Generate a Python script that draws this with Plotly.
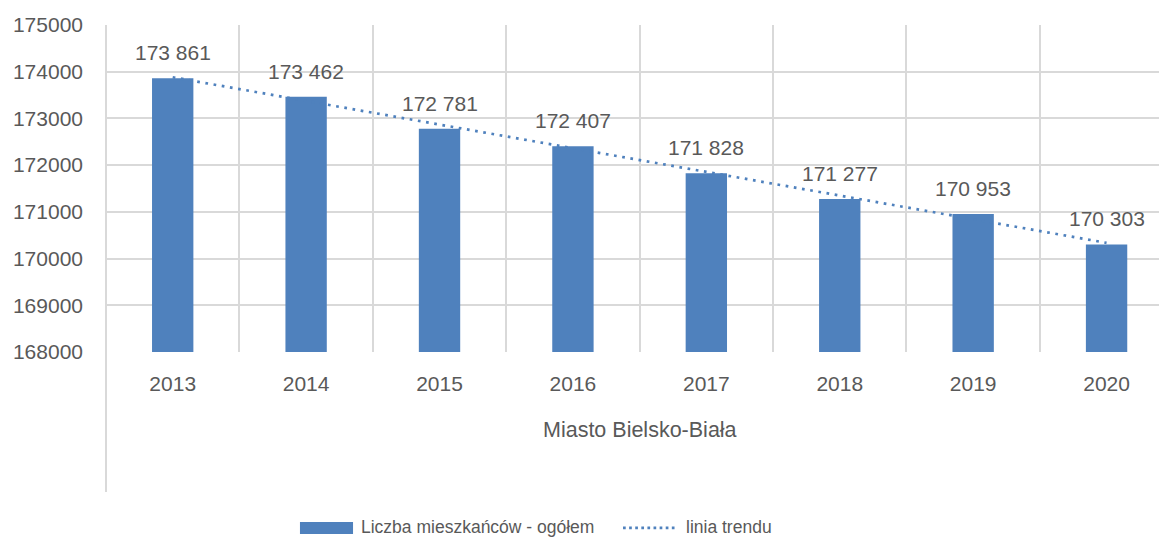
import numpy as np
import plotly.graph_objects as go

years = ["2013", "2014", "2015", "2016", "2017", "2018", "2019", "2020"]
population = [173861, 173462, 172781, 172407, 171828, 171277, 170953, 170303]
group_label = "Miasto Bielsko-Biała"
series_name = "Liczba mieszkańców - ogółem"
trend_name = "linia trendu"
y_ticks = [168000, 169000, 170000, 171000, 172000, 173000, 174000, 175000]

BAR = "#4F81BD"
GRID = "#D9D9D9"
TXT = "#595959"
FONT = "Liberation Sans"
FS = 21
LEG_FS = 17.5

x = np.arange(len(years))
slope, intercept = np.polyfit(x, population, 1)
trend = slope * x + intercept

fig = go.Figure()
fig.add_trace(go.Bar(x=x, y=population, width=0.31, marker=dict(color=BAR, line=dict(width=0)),
                     name=series_name, showlegend=False))
fig.add_trace(go.Scatter(x=x, y=trend, mode="lines", name=trend_name, showlegend=False,
                         line=dict(color=BAR, width=2.7, dash="2.7px,5.6px")))

for xi, v in zip(x, population):
    fig.add_annotation(x=xi, y=v, text=f"{v:,}".replace(",", " "), showarrow=False,
                       yanchor="bottom", yshift=12, font=dict(family=FONT, size=FS, color=TXT))

fig.add_annotation(x=(len(years) - 1) / 2, xref="x", y=-0.239, yref="paper", text=group_label,
                   showarrow=False, yanchor="middle", font=dict(family=FONT, size=21.5, color=TXT))

# left axis line extending through category area
fig.add_shape(type="line", xref="paper", yref="paper", x0=0, x1=0, y0=1, y1=-0.428,
              line=dict(color=GRID, width=2), layer="below")

# custom legend
fig.add_shape(type="rect", xref="paper", yref="paper", x0=0.1842, x1=0.2346, y0=-0.5566, y1=-0.5199,
              fillcolor=BAR, line=dict(width=0))
fig.add_annotation(x=0.2403, y=-0.535, xref="paper", yref="paper", text=series_name, showarrow=False,
                   xanchor="left", yanchor="middle", font=dict(family=FONT, size=LEG_FS, color=TXT))
fig.add_shape(type="line", xref="paper", yref="paper", x0=0.491, x1=0.5423, y0=-0.538, y1=-0.538,
              line=dict(color=BAR, width=2.7, dash="2.7px,3.4px"))
fig.add_annotation(x=0.5489, y=-0.535, xref="paper", yref="paper", text=trend_name, showarrow=False,
                   xanchor="left", yanchor="middle", font=dict(family=FONT, size=LEG_FS, color=TXT))

fig.update_layout(
    width=1159, height=538,
    margin=dict(l=106, r=0, t=25, b=186),
    plot_bgcolor="white", paper_bgcolor="white",
    showlegend=False,
    font=dict(family=FONT, size=FS, color=TXT),
    xaxis=dict(range=[-0.5, 7.393], tickmode="array", tickvals=list(x), ticktext=years,
               showgrid=False, zeroline=False, showline=False, ticks="", ticklabelstandoff=17,
               minor=dict(tickmode="array", tickvals=[i - 0.5 for i in range(len(years) + 1)],
                          showgrid=True, gridcolor=GRID, gridwidth=1.5, ticks=""),
               tickfont=dict(family=FONT, size=FS, color=TXT)),
    yaxis=dict(range=[168000, 175000], tickmode="array", tickvals=y_ticks, tickformat="d",
               showgrid=True, gridcolor=GRID, gridwidth=1.5, zeroline=False, showline=False,
               ticks="", ticklabelstandoff=22, tickfont=dict(family=FONT, size=FS, color=TXT)),
)

fig.write_html("out.html", config={"displayModeBar": False},
               post_script="document.body.style.margin='0';document.body.style.overflow='hidden';")
